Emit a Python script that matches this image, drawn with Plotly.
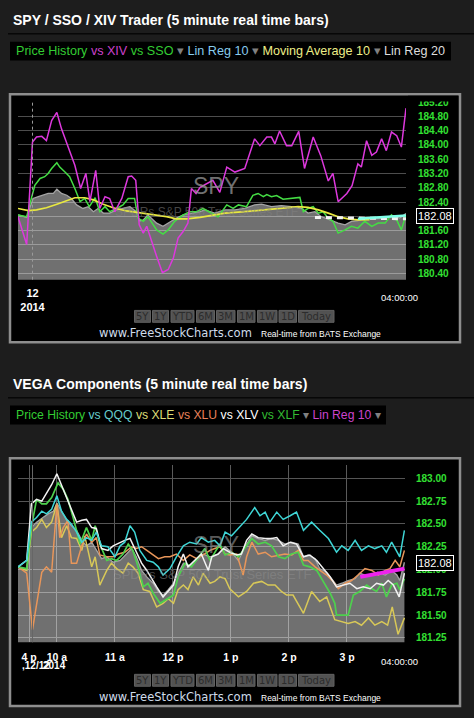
import plotly.graph_objects as go

W, H = 474, 718


def px(x):
    return x / W


def py(y):
    return 1 - y / H


# ---------------- top panel: SPY / SSO / XIV (hours of day, SPY price scale)
top_spy_t = [9.33, 9.48, 9.53, 9.59, 9.68, 9.76, 9.85, 9.94, 10.00, 10.08,
             10.17, 10.25, 10.34, 10.45, 10.54, 10.63, 10.71, 10.80, 10.91, 11.03,
             11.14, 11.26, 11.37, 11.43, 11.49, 11.57, 11.72, 11.83, 11.95, 12.06,
             12.18, 12.32, 12.47, 12.55, 12.72, 12.90, 13.07, 13.24, 13.41, 13.53,
             13.70, 13.87, 14.05, 14.22, 14.33, 14.45, 14.56, 14.71, 14.85, 14.97,
             15.08, 15.19, 15.31, 15.48, 15.66, 15.79, 15.91, 16.02]
top_spy_p = [182.04, 181.97, 182.22, 182.50, 182.55, 182.59, 182.64, 182.64, 182.76, 182.64,
             182.59, 182.50, 182.32, 182.22, 182.27, 182.13, 182.22, 182.09, 182.09, 182.18,
             182.22, 182.27, 182.13, 181.87, 181.90, 182.04, 181.81, 181.72, 181.84, 181.95,
             182.04, 182.09, 182.13, 182.18, 182.09, 182.18, 182.18, 182.22, 182.32, 182.34,
             182.27, 182.30, 182.27, 182.22, 182.09, 182.13, 181.99, 181.90, 181.81, 181.76,
             181.86, 181.88, 181.95, 181.93, 181.95, 182.02, 181.95, 182.08]

top_sso_t = [9.33, 9.48, 9.56, 9.62, 9.71, 9.79, 9.85, 9.91, 10.00, 10.05,
             10.14, 10.22, 10.31, 10.40, 10.48, 10.56, 10.66, 10.74, 10.83, 10.91,
             11.03, 11.14, 11.23, 11.34, 11.40, 11.49, 11.57, 11.72, 11.83, 11.92,
             12.03, 12.18, 12.29, 12.41, 12.52, 12.67, 12.78, 12.93, 13.04, 13.13,
             13.27, 13.38, 13.47, 13.56, 13.62, 13.70, 13.79, 13.90, 14.05, 14.19,
             14.25, 14.33, 14.42, 14.51, 14.59, 14.68, 14.76, 14.85, 14.97, 15.08,
             15.19, 15.31, 15.43, 15.54, 15.66, 15.77, 15.86, 15.94, 16.02]
top_sso_p = [182.04, 181.99, 182.50, 182.87, 183.06, 183.11, 183.20, 183.34, 183.50, 183.38,
             183.24, 183.11, 182.78, 182.41, 182.50, 182.27, 182.52, 182.13, 182.27, 182.13,
             182.22, 182.32, 182.50, 182.50, 181.95, 181.86, 181.99, 181.62, 181.50, 181.62,
             181.86, 182.04, 182.13, 182.13, 182.22, 182.09, 181.99, 182.32, 182.22, 182.32,
             182.27, 182.59, 182.64, 182.55, 182.61, 182.55, 182.58, 182.48, 182.50, 182.53,
             182.13, 182.22, 182.27, 182.09, 182.13, 181.95, 181.86, 181.53, 181.62, 181.72,
             181.67, 181.86, 181.72, 181.81, 181.81, 182.04, 181.90, 181.62, 182.04]

top_xiv_t = [9.33, 9.48, 9.58, 9.65, 9.74, 9.82, 9.91, 10.00, 10.08, 10.19,
             10.31, 10.41, 10.50, 10.57, 10.67, 10.74, 10.83, 10.91, 11.00, 11.12,
             11.23, 11.29, 11.36, 11.42, 11.49, 11.55, 11.63, 11.72, 11.82, 11.92,
             12.01, 12.09, 12.18, 12.26, 12.32, 12.40, 12.47, 12.58, 12.69, 12.81,
             12.93, 13.07, 13.24, 13.41, 13.50, 13.62, 13.70, 13.76, 13.84, 13.96,
             14.05, 14.17, 14.27, 14.42, 14.55, 14.68, 14.76, 14.85, 15.00, 15.09,
             15.19, 15.25, 15.34, 15.43, 15.51, 15.60, 15.68, 15.77, 15.86, 15.94,
             16.02]
top_xiv_p = [181.99, 181.21, 184.08, 184.22, 184.24, 184.12, 184.68, 184.91, 184.45, 183.98,
             183.43, 182.78, 183.20, 182.41, 183.29, 182.22, 182.55, 182.50, 182.13, 182.50,
             183.11, 183.13, 183.01, 181.76, 181.53, 181.72, 181.30, 180.88, 180.42, 180.51,
             180.84, 181.39, 181.58, 181.81, 182.78, 182.64, 182.81, 182.92, 183.01, 182.67,
             183.38, 183.24, 183.34, 184.17, 183.98, 184.22, 184.22, 184.03, 184.39, 183.98,
             183.98, 184.38, 183.34, 184.22, 183.70, 182.99, 183.20, 182.41, 182.64, 182.86,
             183.47, 183.38, 184.12, 183.71, 183.80, 184.17, 183.84, 184.36, 184.26, 183.94,
             185.03]

top_ma_t = [9.33, 9.51, 9.65, 9.82, 10.00, 10.17, 10.31, 10.48, 10.63, 10.80,
            10.97, 11.20, 11.49, 11.72, 11.89, 12.06, 12.24, 12.47, 12.64, 12.90,
            13.24, 13.59, 13.93, 14.16, 14.33, 14.51, 14.68, 14.85, 15.02, 15.19, 15.39]
top_ma_p = [182.22, 182.16, 182.18, 182.24, 182.34, 182.43, 182.52, 182.52, 182.46, 182.34,
            182.24, 182.15, 182.09, 182.04, 181.99, 181.93, 181.93, 181.97, 182.02, 182.09,
            182.13, 182.18, 182.22, 182.27, 182.25, 182.18, 182.09, 181.99, 181.93, 181.90, 181.91]

top_lr20_t = [14.45, 16.02]
top_lr20_p = [181.97, 181.93]
top_lr10_t = [15.19, 16.02]
top_lr10_p = [181.93, 182.02]

top_ticks = [180.40, 180.80, 181.20, 181.60, 182.00, 182.40, 182.80,
             183.20, 183.60, 184.00, 184.40, 184.80, 185.20]
top_last = "182.08"

# ---------------- bottom panel: VEGA components
bot_spy_t = [9.33, 9.48, 9.56, 9.65, 9.76, 9.85, 9.94, 10.00, 10.08, 10.17,
             10.25, 10.34, 10.43, 10.51, 10.60, 10.68, 10.77, 10.86, 10.97, 11.09,
             11.20, 11.29, 11.37, 11.46, 11.55, 11.66, 11.75, 11.83, 11.92, 12.01,
             12.09, 12.18, 12.29, 12.40, 12.52, 12.64, 12.78, 12.90, 13.01, 13.13,
             13.24, 13.36, 13.47, 13.59, 13.70, 13.82, 13.93, 14.04, 14.16, 14.25,
             14.33, 14.45, 14.53, 14.65, 14.74, 14.82, 14.91, 15.02, 15.14, 15.22,
             15.31, 15.43, 15.53, 15.66, 15.77, 15.86, 15.91, 15.99]
bot_spy_p = [182.03, 181.99, 182.46, 182.52, 182.57, 182.61, 182.64, 182.73, 182.64, 182.54,
             182.48, 182.43, 182.32, 182.26, 182.30, 182.21, 182.12, 182.14, 182.08, 182.10,
             182.17, 182.23, 182.14, 181.99, 181.92, 181.85, 181.76, 181.72, 181.78, 181.85,
             181.96, 182.07, 182.03, 182.10, 182.17, 182.14, 182.17, 182.25, 182.19, 182.10,
             182.25, 182.37, 182.34, 182.32, 182.34, 182.32, 182.28, 182.30, 182.28, 182.14,
             182.16, 182.12, 182.01, 181.97, 181.90, 181.83, 181.85, 181.88, 181.90, 181.96,
             181.94, 181.94, 181.97, 181.94, 181.99, 181.94, 181.88, 182.08]

qqq_t = [9.33, 9.48, 9.56, 9.65, 9.74, 9.82, 9.91, 10.00, 10.08, 10.17,
         10.25, 10.34, 10.43, 10.51, 10.60, 10.68, 10.77, 10.88, 11.00, 11.09,
         11.17, 11.26, 11.34, 11.43, 11.55, 11.66, 11.75, 11.83, 11.95, 12.06,
         12.18, 12.29, 12.41, 12.49, 12.61, 12.72, 12.81, 12.90, 13.01, 13.13,
         13.27, 13.41, 13.50, 13.59, 13.67, 13.79, 13.90, 14.02, 14.13, 14.25,
         14.39, 14.53, 14.68, 14.82, 14.91, 15.02, 15.14, 15.25, 15.37, 15.48,
         15.60, 15.68, 15.77, 15.91, 15.99]
qqq_p = [182.03, 182.10, 182.52, 182.57, 182.64, 182.61, 182.66, 182.81, 182.64, 182.55,
         182.50, 182.41, 182.30, 182.35, 182.32, 182.41, 182.26, 182.25, 182.14, 182.26,
         182.30, 182.48, 182.41, 182.21, 182.10, 182.08, 182.03, 181.94, 182.01, 182.14,
         182.26, 182.30, 182.28, 182.35, 182.30, 182.32, 182.26, 182.41, 182.37, 182.45,
         182.55, 182.68, 182.59, 182.63, 182.52, 182.63, 182.55, 182.59, 182.63, 182.43,
         182.52, 182.43, 182.34, 182.19, 182.26, 182.21, 182.32, 182.21, 182.26, 182.23,
         182.26, 182.19, 182.30, 182.14, 182.43]

xle_t = [9.33, 9.48, 9.56, 9.65, 9.74, 9.82, 9.91, 10.00, 10.08, 10.17,
         10.25, 10.34, 10.43, 10.48, 10.60, 10.66, 10.74, 10.86, 10.94, 11.03,
         11.14, 11.23, 11.31, 11.40, 11.49, 11.60, 11.72, 11.83, 11.92, 12.01,
         12.09, 12.18, 12.26, 12.35, 12.44, 12.52, 12.64, 12.72, 12.81, 12.90,
         12.98, 13.13, 13.27, 13.39, 13.53, 13.64, 13.76, 13.87, 13.96, 14.07,
         14.25, 14.39, 14.53, 14.65, 14.79, 14.91, 15.02, 15.14, 15.25, 15.37,
         15.48, 15.60, 15.70, 15.78, 15.88, 15.99]
xle_p = [182.03, 181.99, 182.41, 182.46, 182.55, 182.46, 182.52, 182.72, 182.35, 182.48,
         182.35, 182.34, 182.21, 182.37, 182.03, 182.14, 181.83, 181.99, 182.07, 182.01,
         181.96, 182.07, 182.03, 181.96, 181.78, 181.76, 181.59, 181.63, 181.68, 181.63,
         181.78, 181.83, 181.78, 181.92, 181.83, 181.96, 181.85, 181.87, 181.92, 181.90,
         181.79, 181.70, 181.76, 181.85, 181.87, 181.83, 181.83, 181.76, 181.72, 181.72,
         181.52, 181.76, 181.65, 181.70, 181.45, 181.43, 181.41, 181.43, 181.39, 181.47,
         181.39, 181.43, 181.39, 181.59, 181.29, 181.47]

xlu_t = [9.33, 9.48, 9.58, 9.66, 9.74, 9.82, 9.91, 10.00, 10.05, 10.11,
         10.19, 10.25, 10.34, 10.43, 10.51, 10.60, 10.68, 10.74, 10.86, 10.97,
         11.06, 11.17, 11.29, 11.37, 11.46, 11.55, 11.66, 11.75, 11.86, 11.95,
         12.06, 12.18, 12.29, 12.41, 12.52, 12.64, 12.72, 12.81, 12.90, 12.98,
         13.10, 13.21, 13.27, 13.36, 13.47, 13.59, 13.70, 13.82, 13.93, 14.05,
         14.16, 14.25, 14.33, 14.45, 14.53, 14.65, 14.76, 14.85, 14.97, 15.08,
         15.19, 15.31, 15.43, 15.54, 15.66, 15.74, 15.83, 15.91, 15.99]
xlu_p = [182.03, 181.96, 181.34, 181.67, 181.97, 182.03, 181.97, 182.72, 182.35, 182.46,
         182.54, 182.07, 182.07, 182.26, 182.39, 182.30, 182.35, 182.16, 182.14, 182.14,
         182.17, 182.19, 182.25, 182.23, 182.25, 182.21, 182.16, 182.12, 182.14, 182.14,
         182.17, 182.10, 182.16, 182.12, 182.16, 182.21, 182.23, 182.25, 182.17, 182.16,
         182.17, 181.94, 182.14, 182.30, 182.17, 182.19, 182.14, 182.16, 182.17, 182.16,
         182.21, 182.10, 182.10, 182.03, 181.99, 181.94, 181.87, 181.79, 181.85, 181.88,
         181.94, 182.01, 181.99, 181.94, 181.99, 182.01, 182.10, 182.03, 182.21]

xlv_t = [9.33, 9.48, 9.56, 9.65, 9.74, 9.82, 9.91, 10.00, 10.08, 10.17,
         10.25, 10.34, 10.43, 10.51, 10.60, 10.68, 10.77, 10.88, 10.97, 11.09,
         11.17, 11.26, 11.34, 11.46, 11.55, 11.63, 11.72, 11.83, 11.92, 12.01,
         12.09, 12.18, 12.26, 12.38, 12.49, 12.61, 12.67, 12.78, 12.87, 12.98,
         13.10, 13.18, 13.27, 13.36, 13.47, 13.59, 13.70, 13.79, 13.90, 14.02,
         14.13, 14.25, 14.36, 14.48, 14.59, 14.71, 14.82, 14.94, 15.05, 15.17,
         15.28, 15.40, 15.51, 15.63, 15.71, 15.80, 15.90, 15.99]
xlv_p = [182.03, 182.10, 182.72, 182.77, 182.75, 182.83, 182.93, 183.05, 182.92, 182.79,
         182.66, 182.52, 182.54, 182.55, 182.46, 182.45, 182.23, 182.21, 182.26, 182.30,
         182.32, 182.34, 182.23, 182.07, 181.99, 181.90, 181.81, 181.70, 181.76, 181.83,
         182.03, 182.17, 182.03, 182.10, 182.17, 181.99, 182.14, 182.17, 182.23, 182.19,
         182.16, 182.17, 182.32, 182.39, 182.35, 182.34, 182.34, 182.35, 182.26, 182.30,
         182.28, 182.14, 182.16, 182.10, 182.01, 181.92, 181.81, 181.83, 181.85, 181.79,
         181.81, 181.79, 181.85, 181.83, 181.88, 181.83, 181.70, 181.96]

xlf_t = [9.33, 9.48, 9.56, 9.65, 9.74, 9.82, 9.91, 10.02, 10.11, 10.19,
         10.28, 10.40, 10.51, 10.60, 10.66, 10.74, 10.86, 10.94, 11.03, 11.14,
         11.23, 11.31, 11.40, 11.49, 11.57, 11.66, 11.78, 11.89, 12.01, 12.09,
         12.21, 12.32, 12.44, 12.55, 12.64, 12.81, 12.90, 13.01, 13.13, 13.24,
         13.36, 13.47, 13.59, 13.70, 13.82, 13.93, 14.04, 14.16, 14.25, 14.36,
         14.48, 14.59, 14.71, 14.79, 14.82, 15.02, 15.11, 15.22, 15.34, 15.43,
         15.51, 15.60, 15.68, 15.77, 15.86, 15.91, 15.99]
xlf_p = [182.03, 182.01, 182.46, 182.77, 182.72, 182.72, 182.79, 182.95, 182.88, 182.77,
         182.57, 182.28, 182.46, 182.32, 182.48, 182.28, 182.10, 182.12, 182.10, 182.17,
         182.28, 182.21, 182.03, 181.81, 181.85, 181.74, 181.63, 181.67, 181.72, 181.92,
         182.07, 182.03, 182.14, 182.23, 182.10, 182.28, 182.16, 182.19, 182.14, 182.23,
         182.34, 182.28, 182.30, 182.26, 182.14, 182.12, 182.17, 182.19, 182.05, 182.03,
         181.99, 181.87, 181.74, 181.63, 181.50, 181.50, 181.72, 181.76, 181.83, 181.79,
         181.76, 181.85, 181.70, 181.83, 181.85, 181.78, 181.90]

bot_lr10_t = [15.23, 15.99]
bot_lr10_p = [181.92, 182.01]

bot_ticks = [181.25, 181.50, 181.75, 182.00, 182.25, 182.50, 182.75, 183.00]
bot_last = "182.08"
hour_ticks = [9.52, 10, 11, 12, 13, 14, 15]
hour_labels = ["4 p", "10 a", "11 a", "12 p", "1 p", "2 p", "3 p"]

buttons = ["5Y", "1Y", "YTD", "6M", "3M", "1M", "1W", "1D", "Today"]
button_x = [(134.5, 150.5), (152.5, 168.5), (171, 194), (196.5, 214.5), (216.5, 235),
            (237.5, 255), (257.5, 277), (279, 296.5), (298.5, 334)]

fig = go.Figure()


def area(t, p, xa, ya):
    fig.add_trace(go.Scatter(x=t, y=p, xaxis=xa, yaxis=ya, mode="lines",
                             line=dict(color="#a4a4a4", width=1.3),
                             fill="tozeroy", fillcolor="rgba(255,255,255,0.44)",
                             hoverinfo="skip", showlegend=False))


def line(t, p, color, xa, ya, width=1.5, dash=None):
    fig.add_trace(go.Scatter(x=t, y=p, xaxis=xa, yaxis=ya, mode="lines",
                             line=dict(color=color, width=width, dash=dash),
                             hoverinfo="skip", showlegend=False))


# top panel traces
area(top_spy_t, top_spy_p, "x", "y")
line(top_sso_t, top_sso_p, "#44dd44", "x", "y")
line(top_ma_t, top_ma_p, "#e8e840", "x", "y", 1.7)
line(top_xiv_t, top_xiv_p, "#dd38dd", "x", "y")
line(top_lr20_t, top_lr20_p, "#f4f4f4", "x", "y", 3, "6px,5px")
line(top_lr10_t, top_lr10_p, "#80ffe8", "x", "y", 2.5)

# bottom panel traces
area(bot_spy_t, bot_spy_p, "x2", "y2")
line(xle_t, xle_p, "#d8c858", "x2", "y2")
line(xlu_t, xlu_p, "#e8965a", "x2", "y2")
line(xlf_t, xlf_p, "#4ed04e", "x2", "y2", 1.7)
line(xlv_t, xlv_p, "#f2f2f2", "x2", "y2")
line(qqq_t, qqq_p, "#3fd6d6", "x2", "y2")
line(bot_lr10_t, bot_lr10_p, "#ee22ee", "x2", "y2", 4)

shapes = []
ann = []


def panel(off, title, legend_html, legend_w, legend_size):
    # off: vertical pixel offset of the panel
    shapes.append(dict(type="line", xref="paper", yref="paper", x0=px(8), x1=1,
                       y0=py(29 + off), y1=py(29 + off), line=dict(color="#070707", width=1.5)))
    shapes.append(dict(type="rect", xref="paper", yref="paper", x0=px(10), x1=px(10 + legend_w),
                       y0=py(37 + off), y1=py(56 + off), fillcolor="black", line=dict(width=0),
                       layer="below"))
    shapes.append(dict(type="rect", xref="paper", yref="paper", x0=px(10), x1=px(460),
                       y0=py(90 + off), y1=py(340 + off), fillcolor="black",
                       line=dict(color="#8e8e8e", width=2.5), layer="below"))
    ann.append(dict(text=f"<b>{title}</b>", x=px(11), y=py(15 + off), xanchor="left",
                    yanchor="middle", font=dict(color="white", size=14, family="Liberation Sans")))
    ann.append(dict(text=legend_html, x=px(14), y=py(46.5 + off), xanchor="left",
                    yanchor="middle", font=dict(size=legend_size, family="Liberation Sans")))
    for b, (x0, x1) in zip(buttons, button_x):
        shapes.append(dict(type="rect", xref="paper", yref="paper", x0=px(x0), x1=px(x1),
                           y0=py(308 + off), y1=py(320 + off), fillcolor="#525252",
                           line=dict(color="#606060", width=1)))
        ann.append(dict(text=b, x=px((x0 + x1) / 2), y=py(314 + off), xanchor="center",
                        yanchor="middle", font=dict(color="#2c2c2c", size=10, family="DejaVu Sans")))
    ann.append(dict(text="www.FreeStockCharts.com", x=px(175), y=py(330.5 + off), xanchor="center",
                    yanchor="middle", font=dict(color="#cfdcea", size=11.5, family="DejaVu Sans")))
    ann.append(dict(text="Real-time from BATS Exchange", x=px(259), y=py(332 + off), xanchor="left",
                    yanchor="middle", font=dict(color="white", size=8.5, family="Liberation Sans")))
    ann.append(dict(text="04:00:00", x=px(399.5), y=py(295 + off), xanchor="center",
                    yanchor="middle", font=dict(color="white", size=9.5, family="Liberation Sans")))


def sp(color, s):
    return f'<span style="color:{color}">{s}</span>'


arrow = sp("#808080", "\u25be")
top_legend = " ".join([sp("#33cc33", "Price History"), sp("#cc40cc", "vs XIV"), sp("#33cc33", "vs SSO"),
                       arrow, sp("#88ccee", "Lin Reg 10"), arrow, sp("#eeee88", "Moving Average 10"),
                       arrow, sp("#dddddd", "Lin Reg 20")])
bot_legend = " ".join([sp("#33cc33", "Price History"), sp("#66cccc", "vs QQQ"), sp("#dddd77", "vs XLE"),
                       sp("#e8805a", "vs XLU"), sp("#ffffff", "vs XLV"), sp("#33bb33", "vs XLF"),
                       arrow, sp("#cc44cc", "Lin Reg 10"), arrow])

panel(0, "SPY / SSO / XIV Trader (5 minute real time bars)", top_legend, 441, 12.6)
panel(367, "VEGA Components (5 minute real time bars)", bot_legend, 376, 12.2)

# watermarks
ann.append(dict(text="SPY", x=px(216), y=py(183), xanchor="center", yanchor="middle",
                font=dict(color="rgba(150,150,150,0.75)", size=23, family="Liberation Sans")))
ann.append(dict(text="SPDRs S&P 500 Trust Series ETF", x=px(206), y=py(209), xanchor="center",
                yanchor="middle", font=dict(color="rgba(130,130,130,0.55)", size=12, family="Liberation Sans")))
ann.append(dict(text="SPY", x=px(216), y=py(545), xanchor="center", yanchor="middle",
                font=dict(color="rgba(150,150,150,0.6)", size=23, family="Liberation Sans")))
ann.append(dict(text="SPDRs S&P 500 Trust Series ETF", x=px(212), y=py(574), xanchor="center",
                yanchor="middle", font=dict(color="rgba(140,140,140,0.55)", size=13, family="Liberation Sans")))

# last price badges
for yb, txt in [(212.8, top_last), (562.5, bot_last)]:
    ann.append(dict(text=txt, x=px(434.5), y=py(yb), xanchor="center", yanchor="middle",
                    bgcolor="black", bordercolor="white", borderwidth=1, borderpad=1,
                    font=dict(color="white", size=11, family="Liberation Sans")))

# date under the bottom time axis
ann.append(dict(text="<b>,12/12</b>", x=px(20), y=py(666), xanchor="left", yanchor="middle",
                font=dict(color="white", size=10, family="Liberation Sans")))
ann.append(dict(text="<b>2014</b>", x=px(41), y=py(666), xanchor="left", yanchor="middle",
                font=dict(color="white", size=10, family="Liberation Sans")))

# day separator in the top panel, mask for the clipped top label
shapes.append(dict(type="line", xref="x", yref="y domain", x0=9.58, x1=9.58, y0=0, y1=1,
                   line=dict(color="#9a9a9a", width=1, dash="3px,3px")))
shapes.append(dict(type="line", xref="x2", yref="y2 domain", x0=9.58, x1=9.58, y0=0, y1=1,
                   line=dict(color="#666666", width=1)))
shapes.append(dict(type="rect", xref="paper", yref="paper", x0=px(408), x1=px(458),
                   y0=py(91.5), y1=py(97.3), fillcolor="black", line=dict(width=0), layer="above"))

for a in ann:
    a.setdefault("xref", "paper")
    a.setdefault("yref", "paper")
    a.setdefault("showarrow", False)

tick_font = dict(color="#33e033", size=10, family="Liberation Sans")

fig.update_layout(
    width=W, height=H, margin=dict(l=0, r=0, t=0, b=0),
    paper_bgcolor="#1d1d1d", plot_bgcolor="black",
    showlegend=False, shapes=shapes, annotations=ann,
    xaxis=dict(domain=[px(18), px(406)], range=[9.33, 16.02], anchor="y",
               showgrid=False, zeroline=False, showline=False, ticks="",
               tickvals=[9.58], ticktext=["<b>12</b><br><b>2014</b>"], ticklabelstandoff=5,
               tickfont=dict(color="white", size=11, family="Liberation Sans")),
    yaxis=dict(domain=[py(277), py(97)], range=[180.225, 185.225], anchor="x", side="right",
               tickvals=top_ticks, ticktext=[f"<b>{v:.2f}</b>" for v in top_ticks],
               gridcolor="#4d4d4d", gridwidth=1, zeroline=False, showline=False, ticks="",
               ticklabelstandoff=11, tickfont=tick_font),
    xaxis2=dict(domain=[px(18), px(405)], range=[9.33, 16.0], anchor="y2",
                showgrid=True, gridcolor="#5a5a5a", zeroline=False, showline=False, ticks="",
                tickvals=hour_ticks, ticktext=[f"<b>{s}</b>" for s in hour_labels], ticklabelstandoff=7,
                tickfont=dict(color="white", size=10.5, family="Liberation Sans")),
    yaxis2=dict(domain=[py(642.7), py(464)], range=[181.202, 183.145], anchor="x2", side="right",
                tickvals=bot_ticks, ticktext=[f"<b>{v:.2f}</b>" for v in bot_ticks],
                gridcolor="#555555", gridwidth=1, zeroline=False, showline=False, ticks="",
                ticklabelstandoff=10, tickfont=tick_font),
)

fig.write_html("out.html", config={"displayModeBar": False},
               post_script="document.body.style.margin='0';document.body.style.overflow='hidden';")
